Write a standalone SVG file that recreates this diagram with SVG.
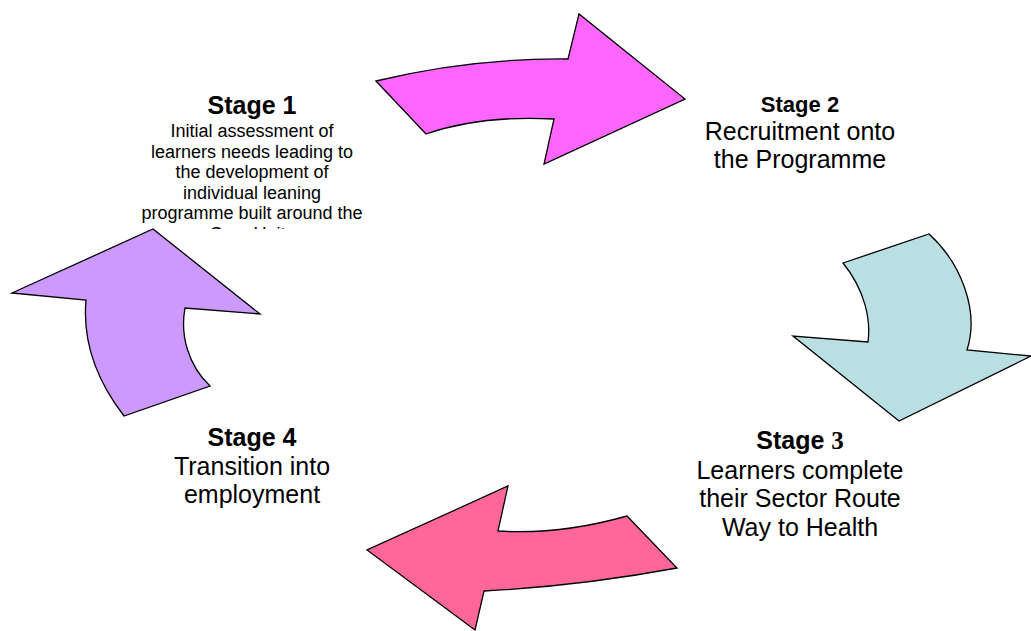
<svg xmlns="http://www.w3.org/2000/svg" width="1031" height="631" viewBox="0 0 1031 631">
<style>
.arrow{stroke:#000;stroke-width:1.3;stroke-linejoin:miter}
text{font-family:"Liberation Sans",Arial,sans-serif;fill:#000;text-anchor:middle}
.h{font-weight:bold;font-size:25px}
.h2{font-weight:bold;font-size:22px}
.b{font-size:25px}
.s{font-size:18px}
.ser{font-family:"Liberation Serif","Times New Roman",serif}
</style>
<defs>
<clipPath id="c1"><rect x="120" y="80" width="270" height="149"/></clipPath>
</defs>
<rect width="1031" height="631" fill="#fff"/>
<g id="connectors">
<path id="arrow12" class="arrow" fill="#FF66FF" d="M376,81 Q470,58 568,59 L579,14 L685,99 L544,164 L554,119 Q480,115 426,134 Z"/>
<path id="arrow23" class="arrow" fill="#B9DFE3" d="M843,263 L929,234 C960,262 980,310 967,350 L1031,356 L899,421 L793,336 L868,342 C871,320 865,290 843,263 Z"/>
<path id="arrow34" class="arrow" fill="#FF6699" d="M627,516 L677,568 Q580,586 484,591 L475,630 L367,550 L508,486 L498,531 Q560,535 627,516 Z"/>
<path id="arrow41" class="arrow" fill="#CC99FF" d="M153,229 L260,314 L185,308 C180,335 188,365 210,386 L124,416 C100,385 82,345 86,300 L12,293 Z"/>
</g>
<g id="stage1" clip-path="url(#c1)">
<text class="h" x="252" y="114">Stage 1</text>
<text class="s" x="252" y="137">Initial assessment of</text>
<text class="s" x="252" y="157.5">learners needs leading to</text>
<text class="s" x="252" y="178">the development of</text>
<text class="s" x="252" y="198.5">individual leaning</text>
<text class="s" x="252" y="219">programme built around the</text>
<text class="s" x="252" y="239.5">Core Units</text>
</g>
<g id="stage2">
<text class="h2" x="800" y="112">Stage 2</text>
<text class="b" x="800" y="140">Recruitment onto</text>
<text class="b" x="800" y="168">the Programme</text>
</g>
<g id="stage3">
<text class="h" x="800" y="449">Stage <tspan class="ser">3</tspan></text>
<text class="b" x="800" y="479">Learners complete</text>
<text class="b" x="800" y="507">their Sector Route</text>
<text class="b" x="800" y="536">Way to Health</text>
</g>
<g id="stage4">
<text class="h" x="252" y="446">Stage 4</text>
<text class="b" x="252" y="475">Transition into</text>
<text class="b" x="252" y="503">employment</text>
</g>
</svg>
